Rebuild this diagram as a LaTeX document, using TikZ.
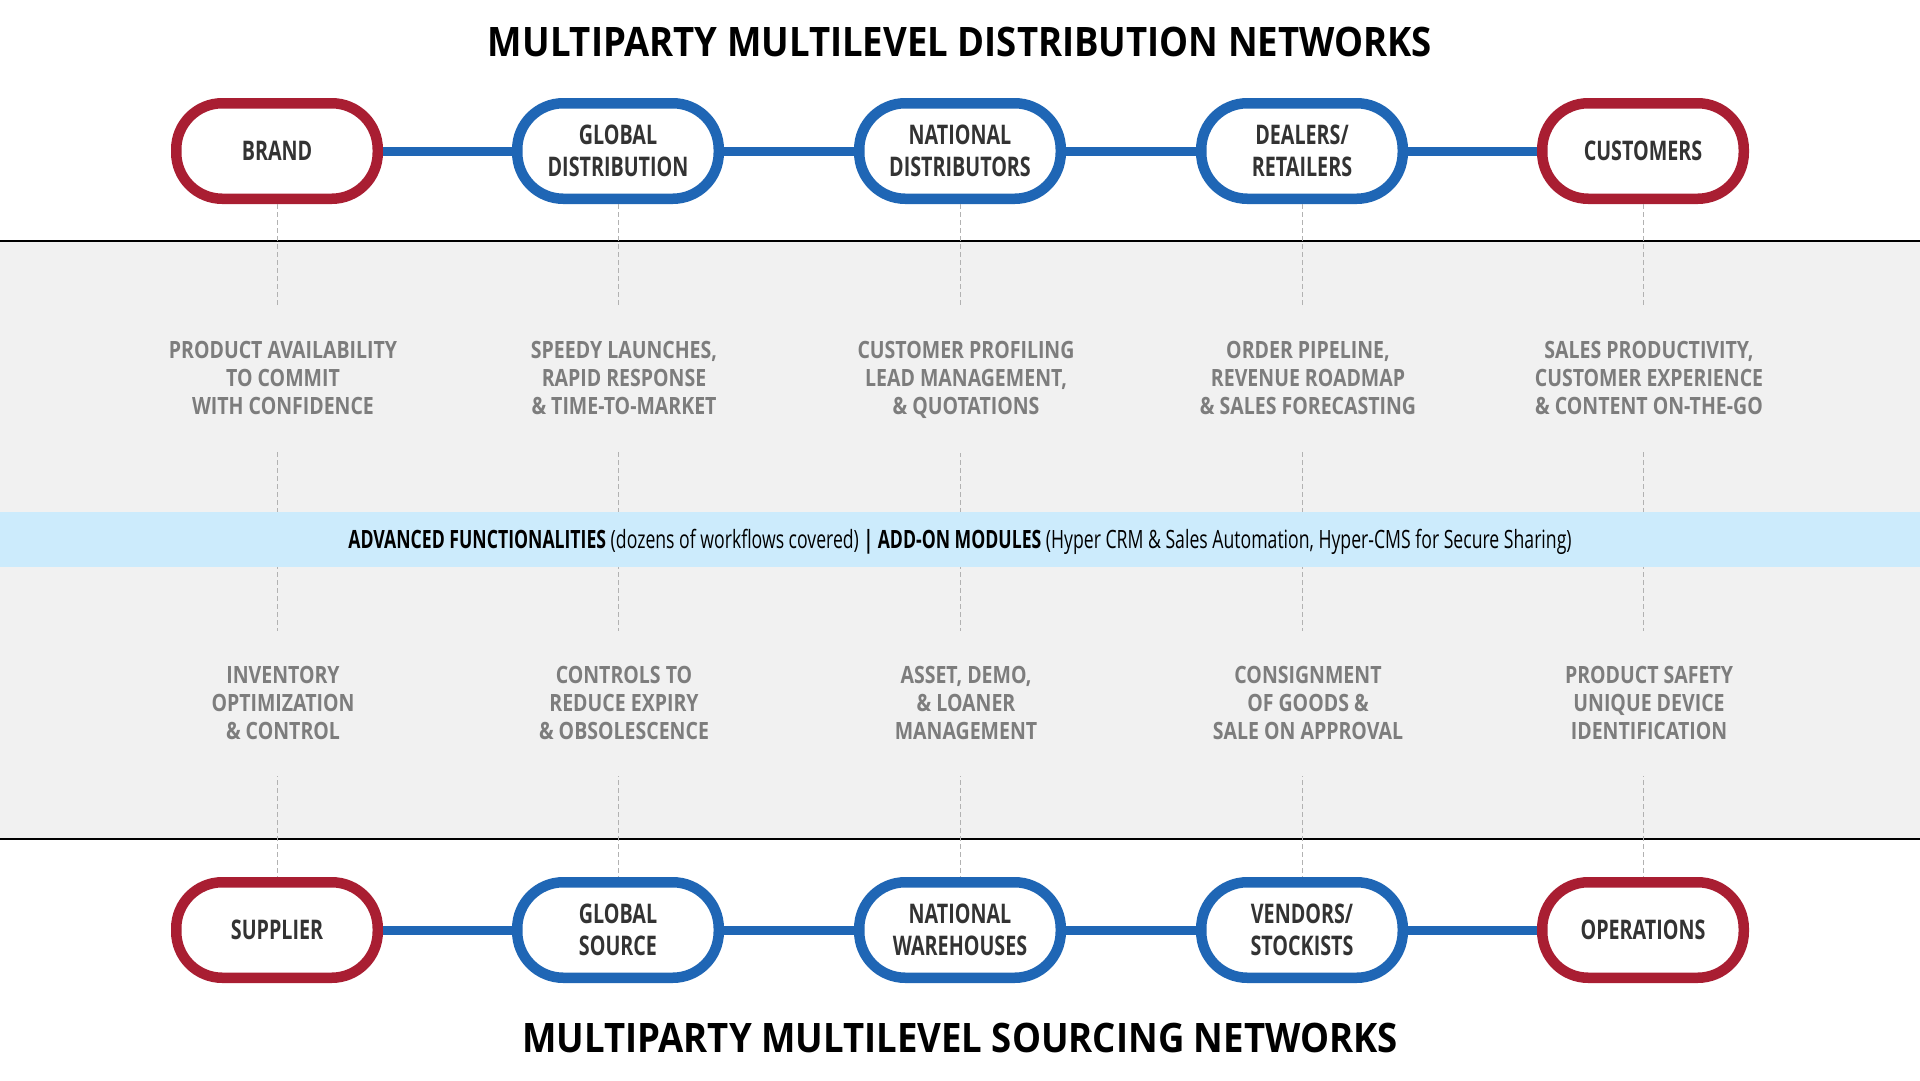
\documentclass[tikz,border=0pt]{standalone}
\usepackage{fontspec}
\setmainfont{Open Sans}
\newfontfamily\titlefont[FakeStretch=0.9]{Open Sans}
\newfontfamily\boxfont[FakeStretch=0.73]{Open Sans}
\newfontfamily\notefont[FakeStretch=0.82]{Open Sans}
\newfontfamily\bandfont[FakeStretch=0.70]{Open Sans}
\definecolor{endred}{RGB}{169,30,50}
\definecolor{linkblue}{RGB}{31,102,181}
\definecolor{bandgray}{RGB}{241,241,241}
\definecolor{bandblue}{RGB}{204,235,252}
\definecolor{notegray}{RGB}{125,125,125}
\definecolor{boxtext}{RGB}{51,51,51}

\begin{document}
\begin{tikzpicture}[x=1pt,y=-1pt,
  party/.style={draw=linkblue,line width=10.5pt,fill=white,rounded corners=46pt,
    minimum width=201.5pt,minimum height=95.5pt,inner sep=0pt,align=center,
    text=boxtext,font=\boxfont\bfseries\fontsize{27}{32}\selectfont},
  endparty/.style={party,draw=endred},
  note/.style={fill=bandgray,minimum height=145pt,inner sep=0pt,align=center,
    text=notegray,font=\notefont\bfseries\fontsize{23.8}{28}\selectfont},
  link/.style={linkblue,line width=9pt},
  guide/.style={black!30,line width=1pt,dash pattern=on 5pt off 3pt},
  heading/.style={font=\titlefont\bfseries\fontsize{40.6}{48}\selectfont}]
\useasboundingbox (0,0) rectangle (1920,1080);
\fill[white] (0,0) rectangle (1920,1080);
\fill[bandgray] (0,241) rectangle (1920,839);
\draw[line width=1.3pt] (0,241) -- (1920,241);
\draw[line width=1.3pt] (0,839) -- (1920,839);

\node[heading] (dtitle) at (960,42)   {MULTIPARTY MULTILEVEL DISTRIBUTION NETWORKS};
\node[heading] (stitle) at (960,1038) {MULTIPARTY MULTILEVEL SOURCING NETWORKS};

% distribution row
\node[endparty] (brand)     at (277,151)  {BRAND};
\node[party]    (gdist)     at (618,151)  {GLOBAL\\DISTRIBUTION};
\node[party]    (ndist)     at (960,151)  {NATIONAL\\DISTRIBUTORS};
\node[party]    (dealers)   at (1302,151) {DEALERS/\\RETAILERS};
\node[endparty] (customers) at (1643,151) {CUSTOMERS};

% sourcing row
\node[endparty] (supplier)   at (277,930)  {SUPPLIER};
\node[party]    (gsource)    at (618,930)  {GLOBAL\\SOURCE};
\node[party]    (nware)      at (960,930)  {NATIONAL\\WAREHOUSES};
\node[party]    (vendors)    at (1302,930) {VENDORS/\\STOCKISTS};
\node[endparty] (operations) at (1643,930) {OPERATIONS};

\draw[guide] (brand) -- (supplier);
\draw[guide] (gdist) -- (gsource);
\draw[guide] (ndist) -- (nware);
\draw[guide] (dealers) -- (vendors);
\draw[guide] (customers) -- (operations);

\node[note] (brand-n)     at (283,378)  {PRODUCT AVAILABILITY\\TO COMMIT\\WITH CONFIDENCE};
\node[note] (gdist-n)     at (624,378)  {SPEEDY LAUNCHES,\\RAPID RESPONSE\\\& TIME-TO-MARKET};
\node[note] (ndist-n)     at (966,380)  {CUSTOMER PROFILING\\LEAD MANAGEMENT,\\\& QUOTATIONS};
\node[note] (dealers-n)   at (1308,378) {ORDER PIPELINE,\\REVENUE ROADMAP\\\& SALES FORECASTING};
\node[note] (customers-n) at (1649,378) {SALES PRODUCTIVITY,\\CUSTOMER EXPERIENCE\\\& CONTENT ON-THE-GO};

\node[note] (supplier-n)   at (283,703)  {INVENTORY\\OPTIMIZATION\\\& CONTROL};
\node[note] (gsource-n)    at (624,703)  {CONTROLS TO\\REDUCE EXPIRY\\\& OBSOLESCENCE};
\node[note] (nware-n)      at (966,703)  {ASSET, DEMO,\\\& LOANER\\MANAGEMENT};
\node[note] (vendors-n)    at (1308,703) {CONSIGNMENT\\OF GOODS \&\\SALE ON APPROVAL};
\node[note] (operations-n) at (1649,703) {PRODUCT SAFETY\\UNIQUE DEVICE\\IDENTIFICATION};

\node[fill=bandblue,minimum width=1920pt,minimum height=55pt,inner sep=0pt,
      text height=18pt,text depth=0pt,
      text=black,font=\bandfont\fontsize{25.2}{30}\selectfont] (band) at (960,539.5)
  {\textbf{ADVANCED FUNCTIONALITIES} (dozens of workflows covered) \textbf{|}
   \textbf{ADD-ON MODULES} (Hyper CRM \& Sales Automation, Hyper-CMS for Secure Sharing)};

\draw[link] (brand) -- (gdist);
\draw[link] (gdist) -- (ndist);
\draw[link] (ndist) -- (dealers);
\draw[link] (dealers) -- (customers);
\draw[link] (supplier) -- (gsource);
\draw[link] (gsource) -- (nware);
\draw[link] (nware) -- (vendors);
\draw[link] (vendors) -- (operations);
\end{tikzpicture}
\end{document}
